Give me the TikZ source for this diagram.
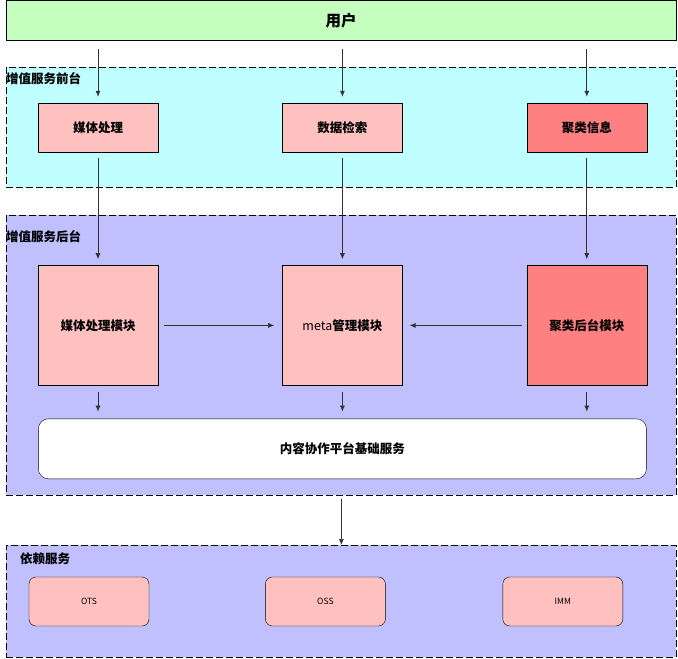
\documentclass[tikz,border=0pt]{standalone}
\usepackage{fontspec}
\setmainfont{Noto Sans CJK SC}
\usetikzlibrary{arrows.meta, positioning}
\definecolor{usergreen}{HTML}{C4FFC0}
\definecolor{frontcyan}{HTML}{C0FFFF}
\definecolor{backblue}{HTML}{C0C0FF}
\definecolor{boxpink}{HTML}{FFC0C0}
\definecolor{boxred}{HTML}{FF8080}

\begin{document}
\begin{tikzpicture}[x=1pt, y=-1pt, >={Latex[length=6pt,width=5pt]},
    grp/.style={draw, dash pattern=on 7pt off 3pt, line width=0.7pt, anchor=north west, inner sep=0pt},
    grplabel/.style={anchor=west, inner sep=0pt, font=\fontsize{12.5}{14}\selectfont\bfseries},
    box/.style={draw, fill=boxpink, minimum width=120pt, minimum height=49pt,
                font=\fontsize{12.5}{14}\selectfont\bfseries, inner sep=2pt},
    module/.style={box, minimum height=120pt},
    dep/.style={draw, fill=boxpink, rounded corners=7pt, minimum width=120pt,
                minimum height=49pt, font=\fontsize{8.5}{10}\selectfont, inner sep=2pt},
    link/.style={->, draw=black!80, line width=0.7pt}]
    \useasboundingbox (0,0) rectangle (678,659);
    % top row
    \node[draw, fill=usergreen, anchor=north west, minimum width=670pt, minimum height=40pt,
          font=\fontsize{15.5}{18}\selectfont\bfseries] (user) at (6,0) {用户};
    % groups
    \node[grp, fill=frontcyan, minimum width=670pt, minimum height=120pt] (front) at (6,67) {};
    \node[grp, fill=backblue, minimum width=670pt, minimum height=280pt]  (back)  at (6,215) {};
    \node[grp, fill=backblue, minimum width=670pt, minimum height=112pt]  (deps)  at (6,545) {};
    \node[grplabel] (frontlbl) at ([yshift=-12pt]front.north west) {增值服务前台};
    \node[grplabel] (backlbl)  at ([yshift=-22pt]back.north west)  {增值服务后台};
    \node[grplabel] (depslbl)  at ([xshift=14pt, yshift=-14pt]deps.north west) {依赖服务};
    % front boxes
    \node[box] (media) at (98,127.5) {媒体处理};
    \node[box, right=124pt of media] (search) {数据检索};
    \node[box, fill=boxred, right=124pt of search] (cluster) {聚类信息};
    % back modules
    \node[module, below=113pt of media]  (mediamod)   {媒体处理模块};
    \node[module, below=113pt of search] (metamod)    {{\mdseries meta}管理模块};
    \node[module, fill=boxred, below=113pt of cluster] (clustermod) {聚类后台模块};
    \node[draw, fill=white, rounded corners=10pt, minimum width=608pt, minimum height=60pt,
          font=\fontsize{12.5}{14}\selectfont\bfseries, below=33pt of metamod] (base) {内容协作平台基础服务};
    % dependencies
    \node[dep] (ots) at (89,601.5) {OTS};
    \node[dep, right=116pt of ots] (oss) {OSS};
    \node[dep, right=117pt of oss] (imm) {IMM};
    % arrows
    \draw[link, shorten <=9pt, shorten >=6pt] (user.south -| media) -- (media);
    \draw[link, shorten <=9pt, shorten >=6pt] (user.south -| search) -- (search);
    \draw[link, shorten <=9pt, shorten >=6pt] (user.south -| cluster) -- (cluster);
    \draw[link, shorten <=6pt, shorten >=6pt] (media) -- (mediamod);
    \draw[link, shorten <=6pt, shorten >=6pt] (search) -- (metamod);
    \draw[link, shorten <=6pt, shorten >=6pt] (cluster) -- (clustermod);
    \draw[link, shorten <=6pt, shorten >=8pt] (mediamod) -- (metamod);
    \draw[link, shorten <=5pt, shorten >=7pt] (clustermod) -- (metamod);
    \draw[link, shorten <=6pt, shorten >=7pt] (mediamod) -- (base.north -| mediamod);
    \draw[link, shorten <=6pt, shorten >=7pt] (metamod) -- (base);
    \draw[link, shorten <=6pt, shorten >=7pt] (clustermod) -- (base.north -| clustermod);
    \draw[link, shorten <=3pt] (back.south) -- (deps.north);
\end{tikzpicture}
\end{document}
